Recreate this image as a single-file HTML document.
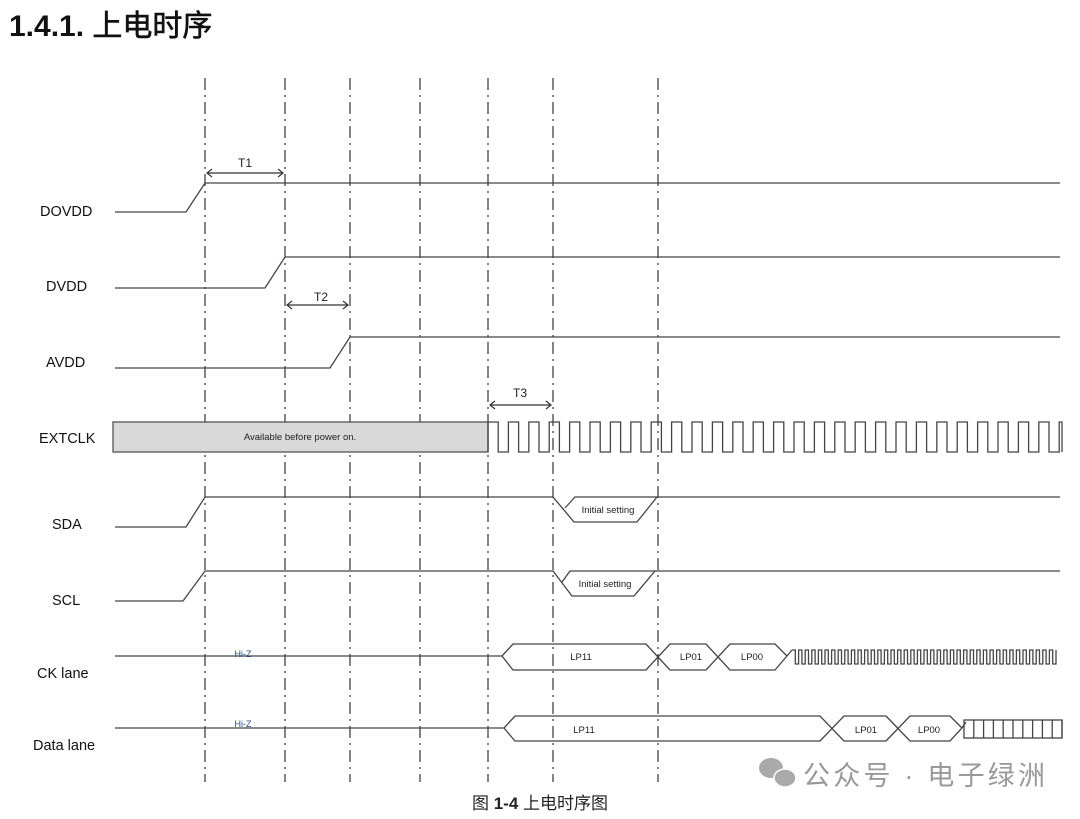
<!DOCTYPE html>
<html><head><meta charset="utf-8"><style>
html,body{margin:0;padding:0;background:#fff;}
svg{display:block;}
text{font-family:"Liberation Sans","Noto Sans CJK SC",sans-serif;}
</style></head><body>
<svg id="s" width="1080" height="819" viewBox="0 0 1080 819" xmlns="http://www.w3.org/2000/svg">
<text x="9" y="36" font-size="30" font-weight="bold" fill="#111">1.4.1. <tspan font-weight="normal" stroke="#111" stroke-width="0.6">上电时序</tspan></text>
<g id="v" stroke="#333" stroke-width="1.2" stroke-dasharray="12 5 2 5"></g>
<g fill="none" stroke="#444" stroke-width="1.3" id="w">
<polyline points="115,212 186,212 205,183 1060,183"/>
<polyline points="115,288 265,288 285,257 1060,257"/>
<polyline points="115,368 330,368 350,337 1060,337"/>
<rect x="113" y="422" width="375" height="30" fill="#d9d9d9" stroke="#555"/>
<polyline points="115,527 186,527 205,497 553,497 574,522 637,522 657,497 1060,497"/>
<polyline points="565,508 575,497 657,497"/>
<polyline points="115,601 183,601 205,571 553,571 572,596 634,596 655,571 1060,571"/>
<polyline points="562,582 570,571 655,571"/>
<polyline points="115,656 502,656 513,644 646,644 670,670 706,670 730,644 775,644 787,656"/>
<polyline points="502,656 513,670 646,670 670,644 706,644 730,670 775,670 787,656 792,650"/>
<polyline points="115,728 504,728 515,716 820,716 844,741 886,741 910,716 950,716 962,728"/>
<polyline points="504,728 515,741 820,741 844,716 886,716 910,741 950,741 962,728 966,722"/>
<rect x="964" y="720" width="98" height="18"/>
</g>
<g stroke="#333" stroke-width="1.2" fill="none">
<line x1="207" y1="173" x2="283" y2="173"/><polyline points="212,169 207,173 212,177"/><polyline points="278,169 283,173 278,177"/>
<line x1="287" y1="305" x2="348" y2="305"/><polyline points="292,301 287,305 292,309"/><polyline points="343,301 348,305 343,309"/>
<line x1="490" y1="405" x2="551" y2="405"/><polyline points="495,401 490,405 495,409"/><polyline points="546,401 551,405 546,409"/>
</g>
<g font-size="12" fill="#222" text-anchor="middle">
<text x="245" y="167">T1</text><text x="321" y="301">T2</text><text x="520" y="397">T3</text>
</g>
<g font-size="14.5" fill="#111">
<text x="40" y="216">DOVDD</text><text x="46" y="291">DVDD</text><text x="46" y="367">AVDD</text>
<text x="39" y="443">EXTCLK</text><text x="52" y="529">SDA</text><text x="52" y="605">SCL</text>
<text x="37" y="678">CK lane</text><text x="33" y="750">Data lane</text>
</g>
<g font-size="9.5" fill="#222" text-anchor="middle">
<text x="300" y="440">Available before power on.</text>
<text x="608" y="513">Initial setting</text><text x="605" y="587">Initial setting</text>
<text x="581" y="660">LP11</text><text x="691" y="660">LP01</text><text x="752" y="660">LP00</text>
<text x="584" y="733">LP11</text><text x="866" y="733">LP01</text><text x="929" y="733">LP00</text>
<text x="243" y="657" fill="#2a4a8a" font-size="9">Hi-Z</text><text x="243" y="727" fill="#2a4a8a" font-size="9">Hi-Z</text>
</g>
<text x="540" y="809" font-size="17" text-anchor="middle" fill="#222">图 <tspan font-weight="bold">1-4</tspan> 上电时序图</text>
<g fill="#aaa">
<ellipse cx="771" cy="768" rx="12" ry="10"/><ellipse cx="785" cy="778" rx="11" ry="9" stroke="#fff" stroke-width="1.5"/>
</g>
<text x="803" y="785" font-size="27" fill="#999" textLength="242" lengthAdjust="spacing">公众号 · 电子绿洲</text>
</svg>
<script>
var ns="http://www.w3.org/2000/svg";
var v=document.getElementById('v');
[205,285,350,420,488,553,658].forEach(function(x){var l=document.createElementNS(ns,'line');l.setAttribute('x1',x);l.setAttribute('x2',x);l.setAttribute('y1',78);l.setAttribute('y2',782);v.appendChild(l);});
var w=document.getElementById('w');
function path(d){var p=document.createElementNS(ns,'path');p.setAttribute('d',d);w.appendChild(p);}
var d="M488,452 ",x=488,per=20.4,hi=422,lo=452;
while(x+per<=1062){d+="L"+x+","+hi+" L"+(x+per/2)+","+hi+" L"+(x+per/2)+","+lo+" L"+(x+per)+","+lo+" ";x+=per;}
d+="L"+x+","+hi+" L1062,"+hi+" L1062,"+lo;
path(d);
d="M792,650 ";x=792;per=6.6;
while(x+per<=1058){d+="L"+(x+per/2)+",650 L"+(x+per/2)+",664 L"+(x+per)+",664 L"+(x+per)+",650 ";x+=per;}
path(d);
d="";for(var i=1;i<11;i++){var xx=964+i*9.8;d+="M"+xx+",720 L"+xx+",738 ";}
path(d);
</script>
</body></html>
